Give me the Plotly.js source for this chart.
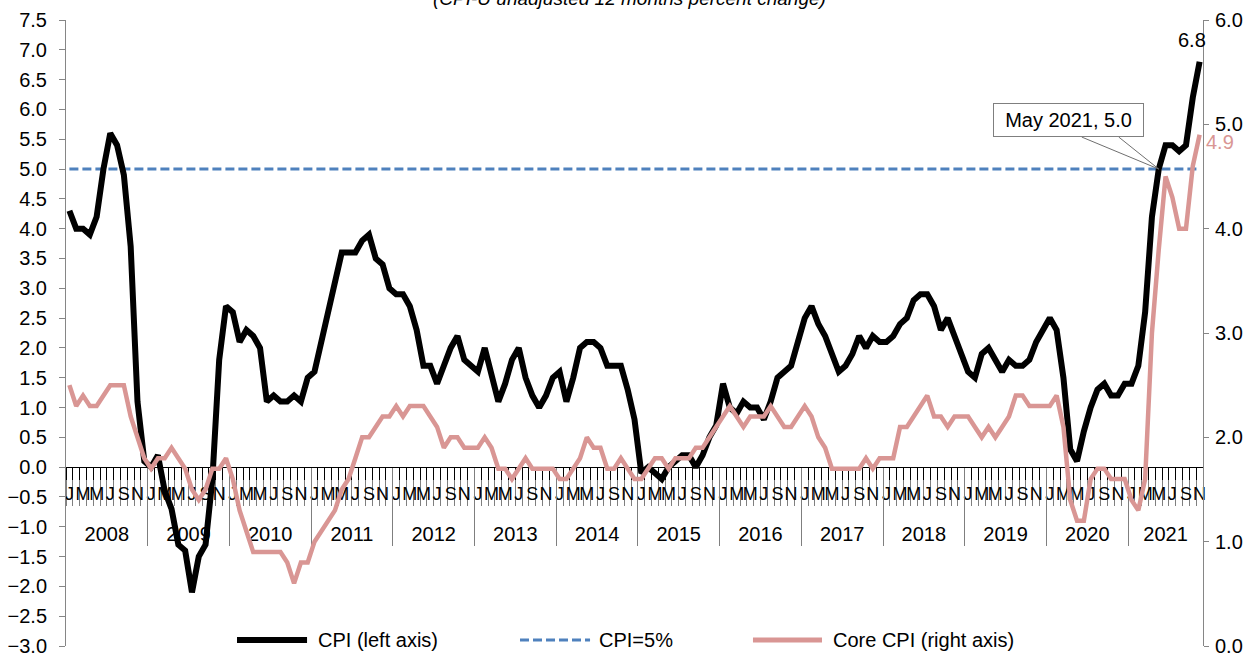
<!DOCTYPE html>
<html>
<head>
<meta charset="utf-8">
<script src="https://cdn.plot.ly/plotly-3.0.1.min.js"></script>
<style>
html,body{margin:0;padding:0;background:#ffffff;}
#chart{width:1255px;height:654px;}
</style>
</head>
<body>
<div id="chart"></div>
<script>
// ---------------- DATA ----------------
const years = [2008, 2009, 2010, 2011, 2012, 2013, 2014, 2015, 2016, 2017, 2018, 2019, 2020, 2021];
const monthNames = ['Jan','Feb','Mar','Apr','May','Jun','Jul','Aug','Sep','Oct','Nov','Dec'];
const monthInitials = ['J','F','M','A','M','J','J','A','S','O','N','D'];

// CPI-U, 12-month percent change (left axis), Jan 2008 - Nov 2021
const cpi = [
  4.3, 4.0, 4.0, 3.9, 4.2, 5.0, 5.6, 5.4, 4.9, 3.7, 1.1, 0.1,      // 2008
  0.0, 0.2, -0.4, -0.7, -1.3, -1.4, -2.1, -1.5, -1.3, -0.2, 1.8, 2.7, // 2009
  2.6, 2.1, 2.3, 2.2, 2.0, 1.1, 1.2, 1.1, 1.1, 1.2, 1.1, 1.5,      // 2010
  1.6, 2.1, 2.7, 3.2, 3.6, 3.6, 3.6, 3.8, 3.9, 3.5, 3.4, 3.0,      // 2011
  2.9, 2.9, 2.7, 2.3, 1.7, 1.7, 1.4, 1.7, 2.0, 2.2, 1.8, 1.7,      // 2012
  1.6, 2.0, 1.5, 1.1, 1.4, 1.8, 2.0, 1.5, 1.2, 1.0, 1.2, 1.5,      // 2013
  1.6, 1.1, 1.5, 2.0, 2.1, 2.1, 2.0, 1.7, 1.7, 1.7, 1.3, 0.8,      // 2014
  -0.1, 0.0, -0.1, -0.2, 0.0, 0.1, 0.2, 0.2, 0.0, 0.2, 0.5, 0.7,   // 2015
  1.4, 1.0, 0.9, 1.1, 1.0, 1.0, 0.8, 1.1, 1.5, 1.6, 1.7, 2.1,      // 2016
  2.5, 2.7, 2.4, 2.2, 1.9, 1.6, 1.7, 1.9, 2.2, 2.0, 2.2, 2.1,      // 2017
  2.1, 2.2, 2.4, 2.5, 2.8, 2.9, 2.9, 2.7, 2.3, 2.5, 2.2, 1.9,      // 2018
  1.6, 1.5, 1.9, 2.0, 1.8, 1.6, 1.8, 1.7, 1.7, 1.8, 2.1, 2.3,      // 2019
  2.5, 2.3, 1.5, 0.3, 0.1, 0.6, 1.0, 1.3, 1.4, 1.2, 1.2, 1.4,      // 2020
  1.4, 1.7, 2.6, 4.2, 5.0, 5.4, 5.4, 5.3, 5.4, 6.2, 6.8            // 2021
];

// Core CPI, 12-month percent change (right axis)
const coreCpi = [
  2.5, 2.3, 2.4, 2.3, 2.3, 2.4, 2.5, 2.5, 2.5, 2.2, 2.0, 1.8,      // 2008
  1.7, 1.8, 1.8, 1.9, 1.8, 1.7, 1.5, 1.4, 1.5, 1.7, 1.7, 1.8,      // 2009
  1.6, 1.3, 1.1, 0.9, 0.9, 0.9, 0.9, 0.9, 0.8, 0.6, 0.8, 0.8,      // 2010
  1.0, 1.1, 1.2, 1.3, 1.5, 1.6, 1.8, 2.0, 2.0, 2.1, 2.2, 2.2,      // 2011
  2.3, 2.2, 2.3, 2.3, 2.3, 2.2, 2.1, 1.9, 2.0, 2.0, 1.9, 1.9,      // 2012
  1.9, 2.0, 1.9, 1.7, 1.7, 1.6, 1.7, 1.8, 1.7, 1.7, 1.7, 1.7,      // 2013
  1.6, 1.6, 1.7, 1.8, 2.0, 1.9, 1.9, 1.7, 1.7, 1.8, 1.7, 1.6,      // 2014
  1.6, 1.7, 1.8, 1.8, 1.7, 1.8, 1.8, 1.8, 1.9, 1.9, 2.0, 2.1,      // 2015
  2.2, 2.3, 2.2, 2.1, 2.2, 2.2, 2.2, 2.3, 2.2, 2.1, 2.1, 2.2,      // 2016
  2.3, 2.2, 2.0, 1.9, 1.7, 1.7, 1.7, 1.7, 1.7, 1.8, 1.7, 1.8,      // 2017
  1.8, 1.8, 2.1, 2.1, 2.2, 2.3, 2.4, 2.2, 2.2, 2.1, 2.2, 2.2,      // 2018
  2.2, 2.1, 2.0, 2.1, 2.0, 2.1, 2.2, 2.4, 2.4, 2.3, 2.3, 2.3,      // 2019
  2.3, 2.4, 2.1, 1.4, 1.2, 1.2, 1.6, 1.7, 1.7, 1.6, 1.6, 1.6,      // 2020
  1.4, 1.3, 1.6, 3.0, 3.8, 4.5, 4.3, 4.0, 4.0, 4.6, 4.9            // 2021
];

const thresholdLevel = [5.0, 5.0];     // CPI = 5% reference line (start, end)
const highlightLabel = 'May 2021';

// ---------------- BUILD ----------------
const n = cpi.length;
const months = [];
years.forEach(y => monthNames.forEach(m => { if (months.length < n) months.push(m + ' ' + y); }));
const xIdx = months.map((_, i) => i);

const FONT = 'Liberation Sans, Arial, Helvetica, sans-serif';
const CPI_COLOR = '#000000';
const CORE_COLOR = '#D99694';
const REF_COLOR = '#4F81BD';
const GRAY = '#868686';

const xRange = [-0.5, n - 0.5];
const boundaries = [];
for (let i = 0; i <= n; i++) boundaries.push(i - 0.5);
const monthTickVals = [], monthTickText = [];
months.forEach((m, i) => { if (i % 2 === 0) { monthTickVals.push(i); monthTickText.push(monthInitials[i % 12]); } });
const yearSepVals = [], yearMidVals = [];
years.forEach((y, k) => {
  const start = k * 12;
  const end = Math.min(n, start + 12) - 1;
  if (k > 0) yearSepVals.push(start - 0.5);
  yearMidVals.push((start + end) / 2);
});

const yMin = -3, yMax = 7.5;
const zeroPos = (0 - yMin) / (yMax - yMin);

const traces = [
  { x: [xIdx[0], xIdx[n - 1]], y: thresholdLevel, type: 'scatter', mode: 'lines', name: 'CPI=5%',
    line: { color: REF_COLOR, width: 3, dash: '9px,4px' }, hoverinfo: 'skip' },
  { x: xIdx, y: cpi, type: 'scatter', mode: 'lines', name: 'CPI (left axis)', text: months,
    line: { color: CPI_COLOR, width: 6 } },
  { x: xIdx, y: coreCpi, type: 'scatter', mode: 'lines', name: 'Core CPI (right axis)', text: months,
    yaxis: 'y2', line: { color: CORE_COLOR, width: 4.5 } }
];
['x2', 'x3', 'x4', 'x5'].forEach(ax => traces.push({
  x: [0], y: [0], xaxis: ax, yaxis: 'y', type: 'scatter', mode: 'markers',
  marker: { opacity: 0, size: 1 }, hoverinfo: 'skip', showlegend: false }));

const baseX = { range: xRange, autorange: false, showgrid: false, zeroline: false,
  tickmode: 'array', anchor: 'free', layer: 'below traces', fixedrange: true, tickangle: 0 };

const hi = months.indexOf(highlightLabel);
const last = n - 1;

const legendY = 0.0096;
const layout = {
  width: 1255, height: 654,
  margin: { l: 66, r: 52, t: 20, b: 8 },
  paper_bgcolor: '#ffffff', plot_bgcolor: 'rgba(0,0,0,0)',
  showlegend: false,
  font: { family: FONT, color: '#000000', size: 20 },
  xaxis: Object.assign({}, baseX, { position: zeroPos, tickvals: boundaries, ticktext: boundaries.map(() => ''),
    showticklabels: false, ticks: 'outside', ticklen: 38, tickcolor: '#7f7f7f', tickwidth: 1,
    showline: true, linecolor: '#000000', linewidth: 1 }),
  xaxis2: Object.assign({}, baseX, { overlaying: 'x', position: zeroPos, tickvals: boundaries,
    ticktext: boundaries.map(() => ''), showticklabels: false, ticks: 'outside', ticklen: 12,
    tickcolor: '#000000', tickwidth: 1, showline: false }),
  xaxis3: Object.assign({}, baseX, { overlaying: 'x', position: 0.2636, tickvals: monthTickVals,
    ticktext: monthTickText, ticks: '', showline: false, tickfont: { size: 18, color: '#000000' } }),
  xaxis4: Object.assign({}, baseX, { overlaying: 'x', position: zeroPos, tickvals: yearSepVals,
    ticktext: yearSepVals.map(() => ''), showticklabels: false, ticks: 'outside', ticklen: 78,
    tickcolor: '#7f7f7f', tickwidth: 1, showline: false }),
  xaxis5: Object.assign({}, baseX, { overlaying: 'x', position: 0.2013, tickvals: yearMidVals,
    ticktext: years.map(String), ticks: '', showline: false, tickfont: { size: 20, color: '#000000' } }),
  yaxis: { range: [yMin, yMax], autorange: false, dtick: 0.5, tick0: 0, tickformat: '.1f',
    showgrid: false, zeroline: false, showline: true, linecolor: GRAY, linewidth: 1,
    ticks: 'outside', ticklen: 6, tickcolor: GRAY, tickfont: { size: 20 }, ticklabelstandoff: 8,
    ticklabeloverflow: 'allow', fixedrange: true },
  yaxis2: { range: [0, 6], autorange: false, dtick: 1, tick0: 0, tickformat: '.1f', overlaying: 'y',
    side: 'right', showgrid: false, zeroline: false, showline: true, linecolor: GRAY, linewidth: 1,
    ticks: 'outside', ticklen: 5, tickcolor: GRAY, tickfont: { size: 20 }, ticklabelstandoff: 2,
    ticklabeloverflow: 'allow', fixedrange: true },
  shapes: [
    // callout wedge to May 2021
    { type: 'path', xref: 'x', yref: 'y', xsizemode: 'pixel', ysizemode: 'pixel',
      xanchor: xIdx[hi], yanchor: cpi[hi], path: 'M-77,32 L0,0 L-40,32',
      line: { color: '#6f6f6f', width: 1 }, layer: 'above' },
    // legend samples
    { type: 'line', xref: 'paper', yref: 'paper', x0: 0.1504, x1: 0.2120, y0: legendY, y1: legendY,
      line: { color: CPI_COLOR, width: 6 } },
    { type: 'line', xref: 'paper', yref: 'paper', x0: 0.3993, x1: 0.4609, y0: legendY, y1: legendY,
      line: { color: REF_COLOR, width: 3, dash: '9px,4px' } },
    { type: 'line', xref: 'paper', yref: 'paper', x0: 0.6042, x1: 0.6649, y0: legendY, y1: legendY,
      line: { color: CORE_COLOR, width: 5 } }
  ],
  annotations: [
    { text: '<i>(CPI-U unadjusted 12 months percent change)</i>', xref: 'paper', yref: 'paper',
      x: 0.496, y: 1.0144, xanchor: 'center', yanchor: 'bottom', showarrow: false,
      font: { size: 19, color: '#000000' } },
    { text: highlightLabel + ', ' + cpi[hi].toFixed(1), xref: 'x', yref: 'y', x: xIdx[hi], y: cpi[hi],
      xshift: -90, yshift: 49, showarrow: false, bgcolor: '#ffffff', bordercolor: '#7f7f7f',
      borderwidth: 1, borderpad: 4, width: 141, height: 24, font: { size: 20 } },
    { text: cpi[last].toFixed(1), xref: 'x', yref: 'y', x: xIdx[last], y: cpi[last],
      xshift: -8, yshift: 22, showarrow: false, font: { size: 20, color: '#000000' } },
    { text: coreCpi[last].toFixed(1), xref: 'x', yref: 'y2', x: xIdx[last], y: coreCpi[last],
      xshift: 20, yshift: -7, showarrow: false, font: { size: 20, color: CORE_COLOR } },
    { text: 'CPI (left axis)', xref: 'paper', yref: 'paper', x: 0.2199, y: legendY,
      xanchor: 'left', yanchor: 'middle', showarrow: false, font: { size: 20 } },
    { text: 'CPI=5%', xref: 'paper', yref: 'paper', x: 0.4670, y: legendY,
      xanchor: 'left', yanchor: 'middle', showarrow: false, font: { size: 20 } },
    { text: 'Core CPI (right axis)', xref: 'paper', yref: 'paper', x: 0.6728, y: legendY,
      xanchor: 'left', yanchor: 'middle', showarrow: false, font: { size: 20 } }
  ]
};

Plotly.newPlot('chart', traces, layout, { displayModeBar: false, staticPlot: true });
</script>
</body>
</html>
